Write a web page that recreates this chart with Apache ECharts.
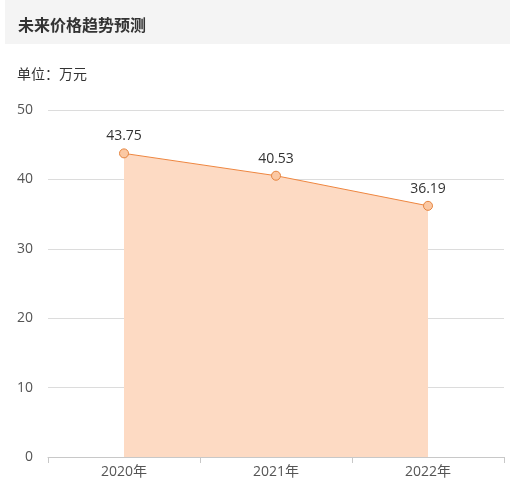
<!DOCTYPE html>
<html lang="zh">
<head>
    <meta charset="UTF-8">
    <title>未来价格趋势预测</title>
    <script src="https://cdn.jsdelivr.net/npm/echarts@6/dist/echarts.min.js"></script>
    <style>
        html, body { margin: 0; padding: 0; background: #fff; }
        #main { width: 510px; height: 490px; }
    </style>
</head>
<body>
<div id="main"></div>
<script type="text/javascript">
    // 数据
    var years = ['2020年', '2021年', '2022年'];
    var prices = [43.75, 40.53, 36.19];
    var yTicks = [0, 10, 20, 30, 40, 50];

    var font = '"Noto Sans CJK SC", "Noto Sans", sans-serif';
    var numFont = '"Open Sans", "Noto Sans CJK SC", sans-serif';
    var myChart = echarts.init(document.getElementById('main'));

    var option = {
        animation: false,
        textStyle: { fontFamily: font },
        graphic: [{
            type: 'rect',
            left: 5, top: 0,
            shape: { width: 505, height: 44 },
            style: { fill: '#f4f4f4' },
            z: -1
        }],
        title: [{
            text: '未来价格趋势预测',
            left: 13, top: 12,
            textStyle: { fontSize: 16, fontWeight: 'bold', color: '#333', fontFamily: font }
        }, {
            text: '单位：万元',
            left: 12, top: 62,
            textStyle: { fontSize: 14, fontWeight: 'normal', color: '#333', fontFamily: font }
        }],
        grid: { left: 48, right: 6, top: 110, bottom: 33 },
        xAxis: {
            type: 'category',
            data: years,
            boundaryGap: true,
            axisLine: { lineStyle: { color: '#c8c8c8' } },
            axisTick: { show: true, length: 6, lineStyle: { color: '#c8c8c8' } },
            axisLabel: { color: '#555', fontSize: 14, margin: 8, fontFamily: numFont }
        },
        yAxis: {
            type: 'value',
            min: yTicks[0],
            max: yTicks[yTicks.length - 1],
            interval: 10,
            axisLine: { show: false },
            axisTick: { show: false },
            axisLabel: { color: '#555', fontSize: 14, margin: 15, fontFamily: numFont },
            splitLine: { lineStyle: { color: '#dcdcdc' } }
        },
        series: [{
            type: 'line',
            data: prices,
            symbol: 'circle',
            symbolSize: 9,
            lineStyle: { color: '#ee8640', width: 1 },
            itemStyle: { color: '#fbc8a3', borderColor: '#e5843f', borderWidth: 1 },
            areaStyle: { color: '#fddac3', opacity: 1 },
            label: {
                show: true,
                position: 'top',
                distance: 5,
                color: '#333',
                fontSize: 14,
                fontFamily: numFont
            }
        }]
    };

    myChart.setOption(option);
</script>
</body>
</html>
